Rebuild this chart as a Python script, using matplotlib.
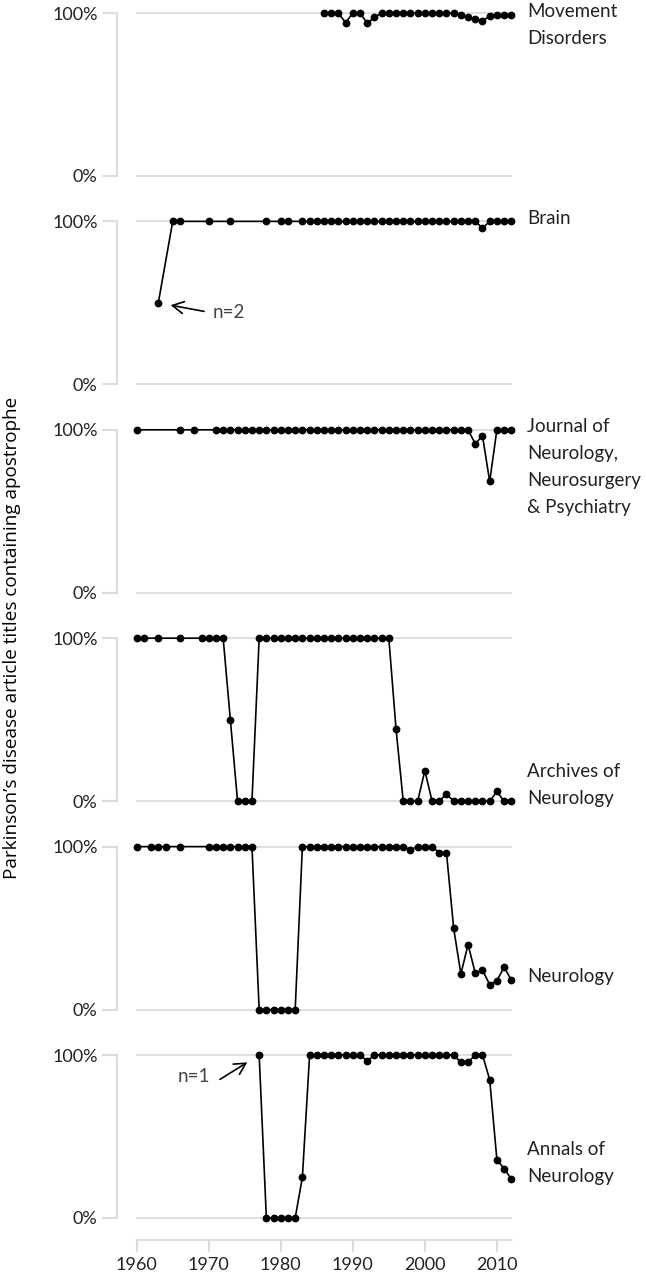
import matplotlib
matplotlib.use('Agg')
import matplotlib.pyplot as plt

plt.rcParams['font.family'] = ['Lato', 'DejaVu Sans']

# share of Parkinson's disease titles using the apostrophe form, per journal and year
md_years = [1986, 1987, 1988, 1989, 1990, 1991, 1992, 1993, 1994, 1995, 1996, 1997, 1998, 1999,
            2000, 2001, 2002, 2003, 2004, 2005, 2006, 2007, 2008, 2009, 2010, 2011, 2012]
md_vals = [1, 1, 1, 0.94, 1, 1, 0.937, 0.973, 1, 1, 1, 1, 1, 1,
           1, 1, 1, 1, 1, 0.986, 0.973, 0.961, 0.953, 0.98, 0.988, 0.988, 0.988]

brain_years = [1963, 1965, 1966, 1970, 1973, 1978, 1980, 1981, 1983, 1984, 1985, 1986, 1987, 1988,
               1989, 1990, 1991, 1992, 1993, 1994, 1995, 1996, 1997, 1998, 1999, 2000, 2001, 2002,
               2003, 2004, 2005, 2006, 2007, 2008, 2009, 2010, 2011, 2012]
brain_vals = [0.5, 1, 1, 1, 1, 1, 1, 1, 1, 1, 1, 1, 1, 1,
              1, 1, 1, 1, 1, 1, 1, 1, 1, 1, 1, 1, 1, 1,
              1, 1, 1, 1, 1, 0.959, 1, 1, 1, 1]

jnnp_years = [1960, 1966, 1968, 1971, 1972, 1973, 1974, 1975, 1976, 1977, 1978, 1979, 1980, 1981,
              1982, 1983, 1984, 1985, 1986, 1987, 1988, 1989, 1990, 1991, 1992, 1993, 1994, 1995,
              1996, 1997, 1998, 1999, 2000, 2001, 2002, 2003, 2004, 2005, 2006, 2007, 2008, 2009,
              2010, 2011, 2012]
jnnp_vals = [1, 1, 1, 1, 1, 1, 1, 1, 1, 1, 1, 1, 1, 1,
             1, 1, 1, 1, 1, 1, 1, 1, 1, 1, 1, 1, 1, 1,
             1, 1, 1, 1, 1, 1, 1, 1, 1, 1, 1, 0.914, 0.963, 0.683,
             1, 1, 1]

arch_years = [1960, 1961, 1963, 1966, 1969, 1970, 1971, 1972, 1973, 1974, 1975, 1976, 1977, 1978,
              1979, 1980, 1981, 1982, 1983, 1984, 1985, 1986, 1987, 1988, 1989, 1990, 1991, 1992,
              1993, 1994, 1995, 1996, 1997, 1998, 1999, 2000, 2001, 2002, 2003, 2004, 2005, 2006,
              2007, 2008, 2009, 2010, 2011, 2012]
arch_vals = [1, 1, 1, 1, 1, 1, 1, 1, 0.5, 0, 0, 0, 1, 1,
             1, 1, 1, 1, 1, 1, 1, 1, 1, 1, 1, 1, 1, 1,
             1, 1, 1, 0.443, 0, 0, 0, 0.188, 0, 0, 0.045, 0, 0, 0,
             0, 0, 0, 0.06, 0, 0]

neuro_years = [1960, 1962, 1963, 1964, 1966, 1970, 1971, 1972, 1973, 1974, 1975, 1976, 1977, 1978,
               1979, 1980, 1981, 1982, 1983, 1984, 1985, 1986, 1987, 1988, 1989, 1990, 1991, 1992,
               1993, 1994, 1995, 1996, 1997, 1998, 1999, 2000, 2001, 2002, 2003, 2004, 2005, 2006,
               2007, 2008, 2009, 2010, 2011, 2012]
neuro_vals = [1, 1, 1, 1, 1, 1, 1, 1, 1, 1, 1, 1, 0, 0,
              0, 0, 0, 0, 1, 1, 1, 1, 1, 1, 1, 1, 1, 1,
              1, 1, 1, 1, 1, 0.98, 1, 1, 1, 0.963, 0.963, 0.499, 0.219, 0.399,
              0.223, 0.243, 0.153, 0.178, 0.26, 0.182]

annals_years = [1977, 1978, 1979, 1980, 1981, 1982, 1983, 1984, 1985, 1986, 1987, 1988, 1989, 1990,
                1991, 1992, 1993, 1994, 1995, 1996, 1997, 1998, 1999, 2000, 2001, 2002, 2003, 2004,
                2005, 2006, 2007, 2008, 2009, 2010, 2011, 2012]
annals_vals = [1, 0, 0, 0, 0, 0, 0.25, 1, 1, 1, 1, 1, 1, 1,
               1, 0.963, 1, 1, 1, 1, 1, 1, 1, 1, 1, 1, 1, 1,
               0.955, 0.955, 1, 1, 0.849, 0.358, 0.303, 0.239]

journal_names = ['Movement\nDisorders', 'Brain',
                 'Journal of\nNeurology,\nNeurosurgery\n& Psychiatry',
                 'Archives of\nNeurology', 'Neurology', 'Annals of\nNeurology']
series = [(md_years, md_vals), (brain_years, brain_vals), (jnnp_years, jnnp_vals),
          (arch_years, arch_vals), (neuro_years, neuro_vals), (annals_years, annals_vals)]

# panel index, year, value, label
notes = [(1, 1963, 0.5, 'n=2'), (5, 1977, 1.0, 'n=1')]

W, H = 646, 1273
PT = 72 / 100.0          # pixels -> points
GRID = '#dcdcdc'
TXT = '#222222'

fig = plt.figure(figsize=(W / 100, H / 100), dpi=100)

x0, x1 = 136.7, 511.3
panel_h = 163
axes = []
for i, (name, (yrs, vals)) in enumerate(zip(journal_names, series)):
    top = 13 + i * 208.4
    ax = fig.add_axes([x0 / W, 1 - (top + panel_h) / H, (x1 - x0) / W, panel_h / H])
    ax.set_xlim(1960, 2012)
    ax.set_ylim(0, 1)
    for yv in (0, 1):
        ax.axhline(yv, color=GRID, lw=1.3, zorder=1, clip_on=False)
    ax.plot(yrs, vals, color='black', lw=1.2, marker='o', ms=4.6,
            clip_on=False, zorder=3)

    for s in ('top', 'right', 'bottom'):
        ax.spines[s].set_visible(False)
    ax.spines['left'].set_position(('outward', 20 * PT))
    ax.spines['left'].set_color(GRID)
    ax.spines['left'].set_linewidth(1.5)
    ax.set_yticks([0, 1])
    ax.set_yticklabels(['0%', '100%'])
    ax.tick_params(axis='y', direction='out', length=15 * PT, width=1.5,
                   color=GRID, pad=4 * PT, labelsize=13, labelcolor=TXT)
    ax.set_xticks([])
    ax.patch.set_alpha(0)

    # journal name beside the last point: hangs below a high value, stacks above a low one
    lines = name.split('\n')
    last = vals[-1]
    for k, ln in enumerate(lines):
        if last > 0.5:
            dy = 3 - k * 27
        else:
            dy = 3 + (len(lines) - 1 - k) * 27
        ax.annotate(ln, xy=(2012, last), xytext=(16 * PT, dy * PT),
                    textcoords='offset points', ha='left', va='center',
                    fontsize=13.5, color=TXT, annotation_clip=False)
    axes.append(ax)

# bottom year axis
ax = axes[-1]
ax.spines['bottom'].set_visible(True)
ax.spines['bottom'].set_position(('outward', 22 * PT))
ax.spines['bottom'].set_color(GRID)
ax.spines['bottom'].set_linewidth(1.5)
ax.set_xticks([1960, 1970, 1980, 1990, 2000, 2010])
ax.tick_params(axis='x', direction='out', length=12 * PT, width=1.5,
               color=GRID, pad=5 * PT, labelsize=13, labelcolor=TXT)

# small-sample notes
arrow = '->,head_length=0.6,head_width=0.32'
for idx, yr, v, txt in notes:
    a = axes[idx]
    if idx == 1:
        a.annotate(txt, xy=(yr, v), xytext=(54 * PT, -10 * PT), textcoords='offset points',
                   ha='left', va='center', fontsize=13.5, color='#444444',
                   arrowprops=dict(arrowstyle=arrow, color='black', lw=1.2,
                                   shrinkA=4, shrinkB=9, relpos=(0, 0.5)))
    else:
        a.annotate(txt, xy=(yr, v), xytext=(-49 * PT, -22 * PT), textcoords='offset points',
                   ha='right', va='center', fontsize=13.5, color='#444444',
                   arrowprops=dict(arrowstyle=arrow, color='black', lw=1.2,
                                   shrinkA=6, shrinkB=10, relpos=(1, 0)))

fig.text(12 / W, 1 - 638 / H, 'Parkinson\u2019s disease article titles containing apostrophe',
         rotation=90, ha='center', va='center', fontsize=13.6, color='black',
         family=['Open Sans', 'DejaVu Sans'])

fig.savefig('out.png', dpi=100)
